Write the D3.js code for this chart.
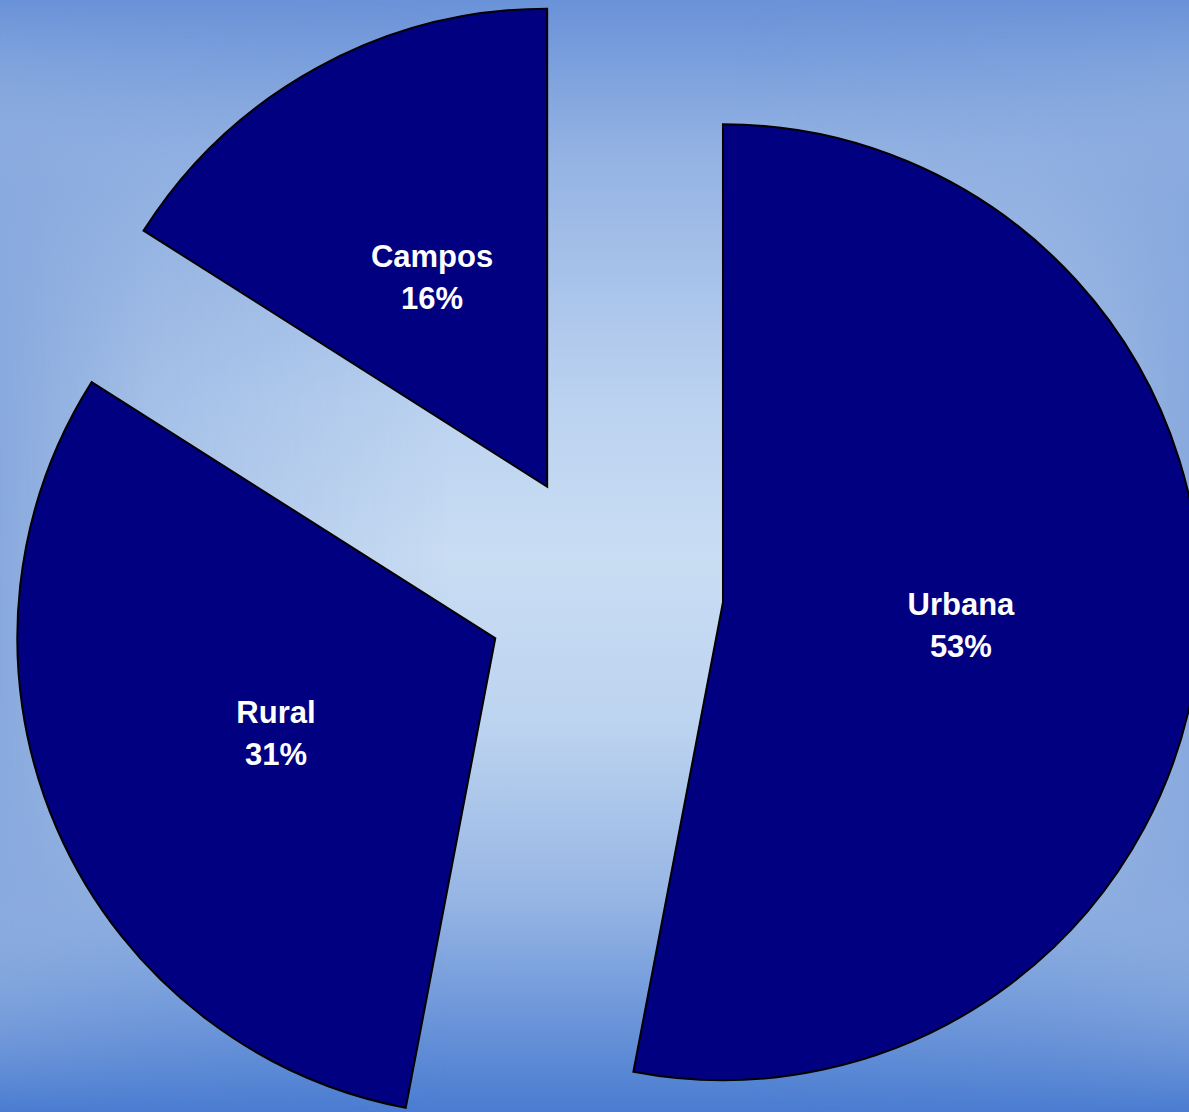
<!DOCTYPE html>
<html>
<head>
<meta charset="utf-8">
<script src="https://cdn.jsdelivr.net/npm/d3@7"></script>
<style>
  html, body { margin: 0; padding: 0; overflow: hidden; }
  svg { display: block; }
</style>
</head>
<body>
<svg id="chart" width="1189" height="1112"></svg>
<script>
const categories = ["Urbana", "Rural", "Campos"];
const values = [53, 31, 16];
const percentLabels = ["53%", "31%", "16%"];

const W = 1189, H = 1112;
const cx = 604.5, cy = 591, R = 478, explode = 119;
const svg = d3.select("#chart");
const defs = svg.append("defs");

function linGrad(id, x1, y1, x2, y2, stops) {
  const gr = defs.append("linearGradient").attr("id", id)
    .attr("gradientUnits", "userSpaceOnUse")
    .attr("x1", x1).attr("y1", y1).attr("x2", x2).attr("y2", y2);
  stops.forEach(s => gr.append("stop").attr("offset", s[0]).attr("stop-color", s[1]));
}

// vertical base gradient
linGrad("gVert", 0, 0, 0, H, [
  [0, "#6a92d8"], [0.135, "#93b2e3"], [0.36, "#bbd2f0"], [0.5, "#c9ddf3"],
  [0.65, "#bdd4f0"], [0.81, "#96b5e4"], [0.9, "#729adb"], [1, "#4a7cd1"]
]);
// horizontal mask (bright at sides)
linGrad("gHorMask", 0, 0, W, 0, [
  [0, "#ffffff"], [0.13, "#707070"], [0.38, "#000000"], [0.62, "#000000"], [0.87, "#707070"], [1, "#ffffff"]
]);
// vertical mask (fade side tint out at top and bottom)
linGrad("gVertMask", 0, 0, 0, H, [
  [0, "#000000"], [0.17, "#ffffff"], [0.8, "#ffffff"], [1, "#000000"]
]);
defs.append("mask").attr("id", "mH").attr("maskUnits", "userSpaceOnUse")
  .attr("x", 0).attr("y", 0).attr("width", W).attr("height", H)
  .append("rect").attr("width", W).attr("height", H).attr("fill", "url(#gHorMask)");
defs.append("mask").attr("id", "mV").attr("maskUnits", "userSpaceOnUse")
  .attr("x", 0).attr("y", 0).attr("width", W).attr("height", H)
  .append("rect").attr("width", W).attr("height", H).attr("fill", "url(#gVertMask)");

svg.append("rect").attr("width", W).attr("height", H).attr("fill", "url(#gVert)");
svg.append("g").attr("mask", "url(#mV)")
  .append("g").attr("mask", "url(#mH)")
  .append("rect").attr("width", W).attr("height", H).attr("fill", "#88a9dd");

const pie = d3.pie().sort(null).value(d => d)(values);
const arc = d3.arc().innerRadius(0).outerRadius(R);

const g = svg.append("g").attr("transform", `translate(${cx},${cy})`);

const slices = g.selectAll("g.slice").data(pie).enter().append("g")
  .attr("class", "slice")
  .attr("transform", d => {
    const a = (d.startAngle + d.endAngle) / 2;
    return `translate(${explode * Math.sin(a)},${-explode * Math.cos(a)})`;
  });

slices.append("path")
  .attr("d", arc)
  .attr("fill", "#000080")
  .attr("stroke", "#000000")
  .attr("stroke-width", 2)
  .attr("stroke-linejoin", "miter");

slices.each(function(d, i) {
  const a = (d.startAngle + d.endAngle) / 2;
  const lx = 0.5 * R * Math.sin(a), ly = -0.5 * R * Math.cos(a);
  const t = d3.select(this).append("text")
    .attr("text-anchor", "middle")
    .attr("font-family", "'Liberation Sans', Arial, sans-serif")
    .attr("font-weight", "bold")
    .attr("font-size", 31)
    .attr("fill", "#ffffff");
  t.append("tspan").attr("x", lx).attr("y", ly - 21 + 11).text(categories[i]);
  t.append("tspan").attr("x", lx).attr("y", ly + 21 + 11).text(percentLabels[i]);
});
</script>
</body>
</html>
